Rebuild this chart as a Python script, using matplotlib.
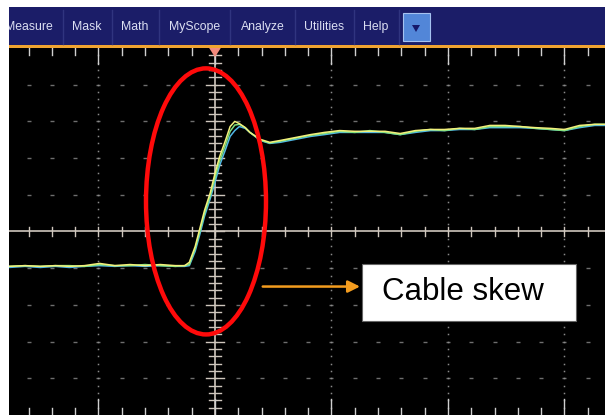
import numpy as np
import matplotlib
matplotlib.use("Agg")
import matplotlib.pyplot as plt
from matplotlib.patches import Ellipse, Rectangle, Polygon

# menu bar of the scope (pixel positions along the bar)
menu_labels = ["Measure", "Mask", "Math", "MyScope", "Analyze", "Utilities", "Help"]
menu_x = [29, 87, 135, 195, 263, 324, 376]
menu_sep = [63, 112, 159, 230, 295, 354, 399]

# waveform, in graticule divisions (time axis, then one list per channel)
t = [-1.77, -1.63, -1.50, -1.37, -1.25, -1.12, -0.99, -0.86, -0.73, -0.60,
     -0.47, -0.34, -0.26, -0.22, -0.17, -0.13, -0.09, -0.04, 0.00, 0.04,
     0.09, 0.13, 0.17, 0.21, 0.26, 0.30, 0.39, 0.47, 0.56, 0.69,
     0.82, 0.94, 1.07, 1.20, 1.33, 1.46, 1.59, 1.72, 1.85, 1.97,
     2.10, 2.23, 2.36, 2.49, 2.62, 2.75, 2.88, 3.00, 3.13, 3.26, 3.35]
yellow = [-0.95, -0.93, -0.95, -0.93, -0.95, -0.93, -0.87, -0.93, -0.90, -0.93,
          -0.90, -0.93, -0.93, -0.84, -0.41, 0.08, 0.57, 1.06, 1.58, 2.04,
          2.48, 2.86, 3.00, 2.94, 2.83, 2.70, 2.51, 2.43, 2.48, 2.56,
          2.64, 2.70, 2.75, 2.73, 2.73, 2.73, 2.67, 2.75, 2.78, 2.78,
          2.81, 2.81, 2.89, 2.89, 2.86, 2.83, 2.81, 2.78, 2.89, 2.92, 2.92]
green = [-0.95, -0.93, -0.95, -0.93, -0.93, -0.95, -0.90, -0.93, -0.93, -0.90,
         -0.93, -0.95, -0.93, -0.90, -0.47, 0.00, 0.49, 0.98, 1.46, 1.92,
         2.36, 2.73, 2.90, 2.92, 2.83, 2.70, 2.49, 2.41, 2.46, 2.54,
         2.62, 2.67, 2.73, 2.70, 2.75, 2.70, 2.64, 2.73, 2.78, 2.75,
         2.81, 2.78, 2.86, 2.86, 2.86, 2.81, 2.78, 2.75, 2.86, 2.92, 2.92]
cyan = [-0.98, -0.95, -0.98, -0.95, -0.98, -0.95, -0.93, -0.95, -0.93, -0.95,
        -0.93, -0.95, -0.95, -0.93, -0.54, -0.08, 0.41, 0.90, 1.34, 1.80,
        2.23, 2.59, 2.75, 2.86, 2.81, 2.70, 2.48, 2.40, 2.43, 2.51,
        2.59, 2.64, 2.70, 2.70, 2.70, 2.70, 2.64, 2.70, 2.75, 2.75,
        2.78, 2.78, 2.83, 2.83, 2.83, 2.81, 2.78, 2.75, 2.83, 2.89, 2.89]

fig = plt.figure(figsize=(6.05, 4.15), dpi=100, facecolor="white")
W, H = 605.0, 415.0

# ---- menu bar ----
bar = fig.add_axes([9 / W, (H - 48) / H, (W - 9) / W, 41 / H])
bar.set_xlim(9, 605)
bar.set_ylim(48, 7)
bar.set_facecolor("#1b1d68")
bar.axhspan(45, 48, color="#f0a431", lw=0)
for lab, x in zip(menu_labels, menu_x):
    bar.text(x, 27, lab, ha="center", va="center", color="#dcdff2",
             fontsize=8.8, family="Liberation Sans", clip_on=True)
for x in menu_sep:
    bar.plot([x, x], [10, 44], color="#30347f", lw=1)
bar.add_patch(Rectangle((403, 13), 27, 28, facecolor="#5286d8",
                        edgecolor="#a6c2f0", lw=0.8))
bar.add_patch(Polygon([[412, 25], [420, 25], [416, 32]], closed=True,
                      facecolor="#16186a", lw=0))
bar.set_xticks([])
bar.set_yticks([])
for s in bar.spines.values():
    s.set_visible(False)

# ---- scope screen ----
ax = fig.add_axes([9 / W, 0, (W - 9) / W, (H - 48) / H])
ax.set_facecolor("black")
x0, x1 = -1.768, 3.348
ax.set_xlim(x0, x1)
ax.set_ylim(-5, 5)
ax.set_xticks([])
ax.set_yticks([])
for s in ax.spines.values():
    s.set_visible(False)

grid_c = "#6e6e6e"
minor_x = np.round(np.arange(-1.6, 3.4, 0.2), 2)
minor_y = np.round(np.arange(-4.8, 5.0, 0.2), 2)

# dotted rows
for gy in range(-4, 5):
    if gy == 0:
        continue
    ax.plot(minor_x, np.full_like(minor_x, gy), ls="none", marker="_",
            ms=2.5, mew=1, color=grid_c)
# dotted columns
for gx in [-1, 1, 2, 3]:
    ax.plot(np.full_like(minor_y, gx), minor_y, ls="none", marker="s",
            ms=1.1, mew=0, color="#8a8a8a")

# center cross with ticks
cross_c = "#cfc7bd"
ax.axhline(0, color=cross_c, lw=1.2)
ax.axvline(0, color=cross_c, lw=1.2)
for mx in minor_x:
    ax.plot([mx, mx], [-0.11, 0.11], color=cross_c, lw=1)
for my in minor_y:
    hw = 0.08 if abs(my - round(my)) < 1e-6 else 0.05
    ax.plot([-hw, hw], [my, my], color=cross_c, lw=1)

# edge ticks top and bottom
for mx in minor_x:
    ln = 0.44 if abs(mx - round(mx)) < 1e-6 else 0.2
    ax.plot([mx, mx], [5, 5 - ln], color="#d0d0d0", lw=1)
    ax.plot([mx, mx], [-5, -5 + ln], color="#d0d0d0", lw=1)

# trigger marker
ax.add_patch(Polygon([[-0.05, 5], [0.05, 5], [0, 4.75]], closed=True,
                     facecolor="#f28a7c", lw=0, zorder=5))

# traces
ax.plot(t, cyan, color="#4fb6e6", lw=1.1)
ax.plot(t, green, color="#7fe07c", lw=1.1)
ax.plot(t, yellow, color="#f2f07c", lw=1.1)

# annotation
ax.add_patch(Ellipse((-0.077, 0.82), 1.03, 7.25, fill=False,
                     edgecolor="#ff0a0a", lw=3.2, zorder=6))
ax.annotate("", xy=(1.245, -1.50), xytext=(0.41, -1.50),
            arrowprops=dict(arrowstyle="-|>", color="#f39c1f", lw=1.8,
                            mutation_scale=18, shrinkA=0, shrinkB=0))
ax.add_patch(Rectangle((1.262, -2.452), 1.837, 1.58, facecolor="white",
                       edgecolor="#666666", lw=0.8, zorder=7))
ax.text(2.13, -1.64, "Cable skew", ha="center", va="center", color="black",
        fontsize=22.5, family="Liberation Sans", zorder=8)

fig.savefig("out.png", dpi=100, facecolor="white")
